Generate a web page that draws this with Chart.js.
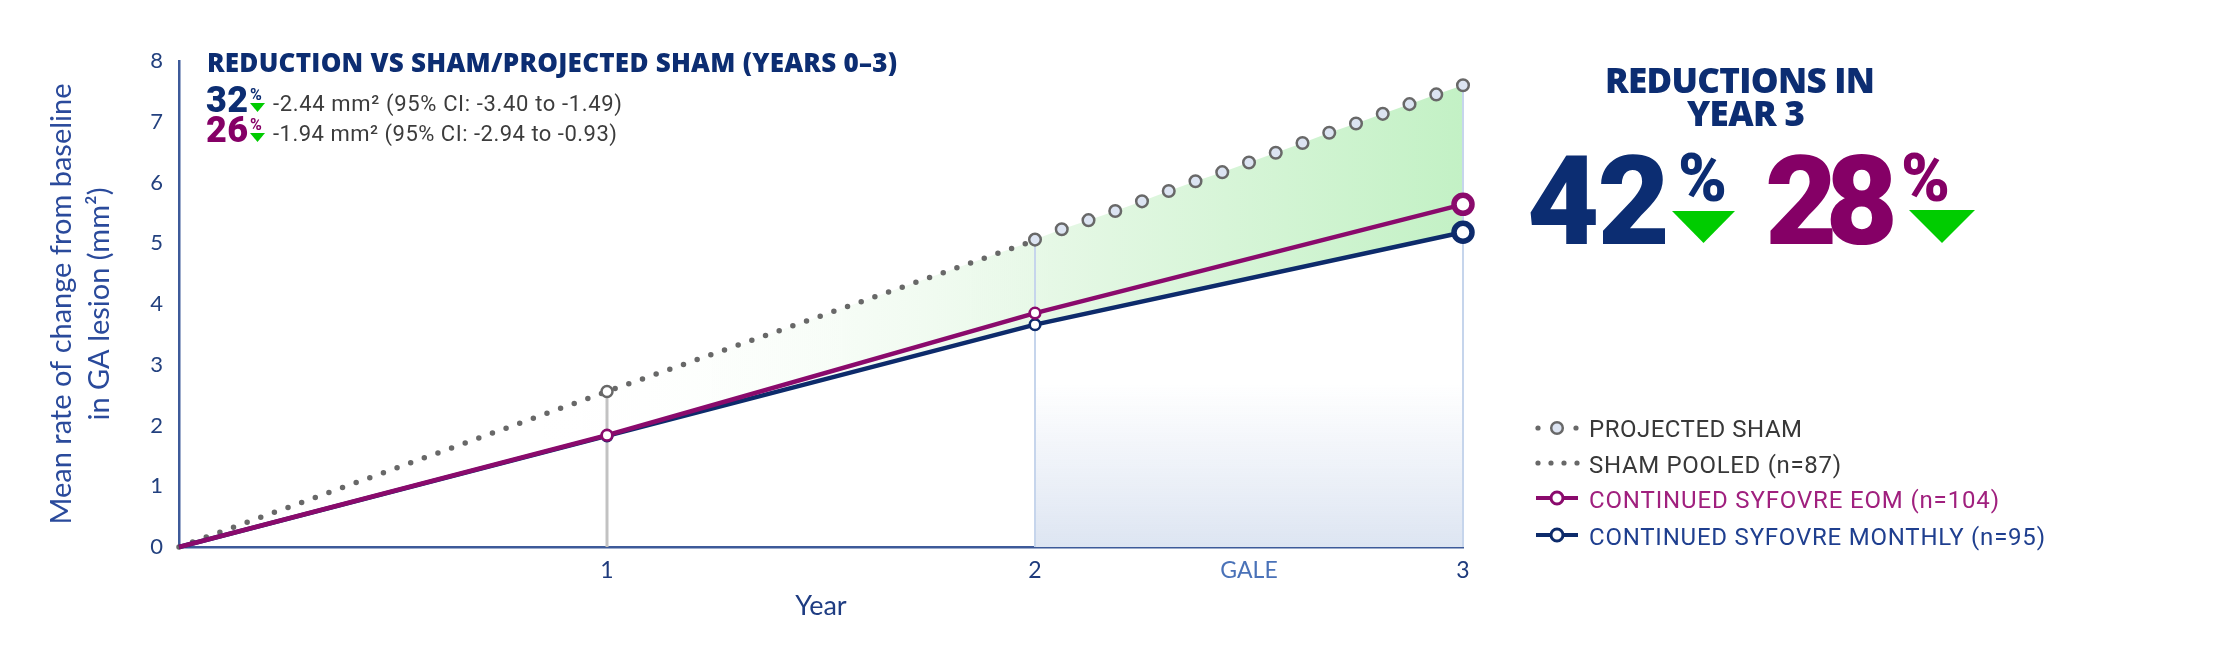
<!DOCTYPE html>
<html>
<head>
<meta charset="utf-8">
<script src="https://cdn.jsdelivr.net/npm/chart.js@4.4.1/dist/chart.umd.min.js"></script>
<style>
  html, body { margin: 0; padding: 0; background: #fff; }
  #wrap { position: relative; width: 2230px; height: 666px; overflow: hidden; }
  #wrap canvas, #wrap svg { position: absolute; left: 0; top: 0; }
  .t { position: absolute; white-space: nowrap; }
</style>
</head>
<body>
<div id="wrap">
  <canvas id="chart" width="2230" height="666"></canvas>
  <svg id="deco" width="2230" height="666"></svg>
</div>
<script>
// values
const years = [0, 1, 2, 3];
const shamPooled = [0, 2.56, 5.05];   // dotted, years 0-2
const projYears = [2, 2.0625, 2.125, 2.1875, 2.25, 2.3125, 2.375, 2.4375, 2.5,
                   2.5625, 2.625, 2.6875, 2.75, 2.8125, 2.875, 2.9375, 3];
const projSham = [5.06, 5.23, 5.38, 5.53, 5.69, 5.86, 6.02, 6.17, 6.33,
                  6.49, 6.65, 6.82, 6.97, 7.13, 7.29, 7.45, 7.60];
const eom = [0, 1.84, 3.85, 5.64];
const monthly = [0, 1.83, 3.66, 5.18];
const xTickValues = [1, 2, 2.5, 3];
const xTickLabels = ['1', '2', 'GALE', '3'];

const NAVY = '#0d2b6b';
const MAGENTA = '#8a0a6c';
const GREY = '#686868';

const pairs = (xs, ys) => xs.map((x, i) => ({ x: x, y: ys[i] }));

// green band, GALE shading and drop lines, drawn under the lines
const areaPlugin = {
  id: 'areas',
  beforeDatasetsDraw(chart) {
    const { ctx, scales: { x, y } } = chart;
    const monPts = chart.getDatasetMeta(1).data;
    const projPts = chart.getDatasetMeta(2).data;
    const shamPts = chart.getDatasetMeta(3).data;
    ctx.save();

    const g = ctx.createLinearGradient(x.getPixelForValue(0.85), 0, x.getPixelForValue(3), 0);
    g.addColorStop(0, 'rgba(255,255,255,0)');
    g.addColorStop(0.55, 'rgb(230,248,230)');
    g.addColorStop(1, 'rgb(195,241,197)');
    ctx.beginPath();
    shamPts.forEach((p, i) => i ? ctx.lineTo(p.x, p.y) : ctx.moveTo(p.x, p.y));
    projPts.forEach(p => ctx.lineTo(p.x, p.y));
    for (let i = monPts.length - 1; i >= 0; i--) ctx.lineTo(monPts[i].x, monPts[i].y);
    ctx.closePath();
    ctx.fillStyle = g;
    ctx.fill();

    const x2 = x.getPixelForValue(2), x3 = x.getPixelForValue(3);
    const top = y.getPixelForValue(2.7), bot = y.getPixelForValue(0);
    const gv = ctx.createLinearGradient(0, top, 0, bot);
    gv.addColorStop(0, 'rgba(223,230,242,0)');
    gv.addColorStop(1, 'rgb(221,229,242)');
    ctx.fillStyle = gv;
    ctx.fillRect(x2, top, x3 - x2, bot - top);

    const drop = (p, color, w) => {
      ctx.beginPath();
      ctx.moveTo(p.x, p.y);
      ctx.lineTo(p.x, bot);
      ctx.strokeStyle = color;
      ctx.lineWidth = w;
      ctx.stroke();
    };
    drop(shamPts[1], '#c2c2c2', 3);
    drop(projPts[0], '#c6d5ec', 2);
    drop(projPts[projPts.length - 1], '#c6d5ec', 2);
    ctx.restore();
  }
};

new Chart(document.getElementById('chart'), {
  type: 'line',
  data: {
    datasets: [
      {
        label: 'CONTINUED SYFOVRE EOM (n=104)',
        data: pairs(years, eom),
        borderColor: MAGENTA, borderWidth: 4.5,
        pointRadius: [0, 5.3, 5.3, 9], pointBorderWidth: [0, 2.6, 2.6, 5.5],
        pointBackgroundColor: '#fff', pointBorderColor: MAGENTA
      },
      {
        label: 'CONTINUED SYFOVRE MONTHLY (n=95)',
        data: pairs(years, monthly),
        borderColor: NAVY, borderWidth: 4.5,
        pointRadius: [0, 5.3, 5.3, 9], pointBorderWidth: [0, 2.6, 2.6, 5.5],
        pointBackgroundColor: '#fff', pointBorderColor: NAVY
      },
      {
        label: 'PROJECTED SHAM',
        data: pairs(projYears, projSham),
        showLine: false,
        pointRadius: 5.8, pointBorderWidth: 2.5,
        pointBackgroundColor: '#dce4f2', pointBorderColor: GREY
      },
      {
        label: 'SHAM POOLED (n=87)',
        data: pairs(years.slice(0, 3), shamPooled),
        borderColor: GREY, borderWidth: 5.5,
        borderDash: [0, 14.5], borderCapStyle: 'round',
        pointRadius: [0, 5.5, 0], pointBorderWidth: 2.5,
        pointBackgroundColor: '#fff', pointBorderColor: GREY
      }
    ]
  },
  options: {
    responsive: false,
    animation: false,
    datasets: { line: { clip: false, tension: 0 } },
    layout: { padding: { left: 0, right: 767, top: 61, bottom: 39 } },
    plugins: { legend: { display: false }, tooltip: { enabled: false } },
    scales: {
      x: {
        type: 'linear', min: 0, max: 3,
        afterBuildTicks: scale => { scale.ticks = xTickValues.map(v => ({ value: v })); },
        afterFit: scale => { scale.height = 80; },
        grid: { display: false, drawTicks: false },
        border: { color: '#3d5a99', width: 2.5 },
        ticks: {
          padding: 10,
          font: { family: 'Lato', size: 23 },
          color: ctx => ctx.tick && ctx.tick.value === 2.5 ? '#4a72b8' : '#1d3a7c',
          callback: v => xTickLabels[xTickValues.indexOf(v)] || ''
        },
        title: {
          display: true, text: 'Year', color: '#1e3c82',
          font: { family: 'Lato', size: 27 }, padding: { top: 0, bottom: 5 }
        }
      },
      y: {
        min: 0, max: 8,
        afterFit: scale => { scale.width = 179; },
        grid: { display: false, drawTicks: false },
        border: { color: '#3d5a99', width: 2.5 },
        ticks: { stepSize: 1, padding: 16, color: '#23417f', font: { family: 'Lato', size: 22 } },
        title: {
          display: true,
          text: ['Mean rate of change from baseline', 'in GA lesion (mm\u00B2)'],
          color: '#2a4a9b',
          font: { family: 'Lato', size: 29, lineHeight: 1.31 },
          padding: { top: 43 }
        }
      }
    }
  },
  plugins: [areaPlugin]
});

// ---- text annotations and legend ----
const wrap = document.getElementById('wrap');
const BASELINE = { 'Open Sans': 0.888, 'Roboto': 0.8415, 'Lato': 0.887 };

function addText(text, o) {
  const el = document.createElement('div');
  el.className = 't';
  el.textContent = text;
  el.style.font = (o.weight || 400) + ' ' + o.size + 'px "' + o.family + '"';
  el.style.lineHeight = '1';
  el.style.color = o.color;
  wrap.appendChild(el);
  const n = [...text].length;
  let w = el.getBoundingClientRect().width;
  if (o.width && n > 1) {
    const ls = (o.width - w) / (n - 1);
    el.style.letterSpacing = ls + 'px';
    w = w + ls * (n - 1);
  }
  el.style.left = (o.align === 'center' ? o.x - w / 2 : o.x) + 'px';
  el.style.top = (o.base - BASELINE[o.family] * o.size) + 'px';
}

const TXT = '#3c3c3c';
const BIG_NAVY = '#0c2d72';
const BIG_MAG = '#850066';
const GREEN = '#00cc00';

addText('REDUCTION VS SHAM/PROJECTED SHAM (YEARS 0\u20133)',
  { x: 207, base: 72, size: 26, family: 'Open Sans', weight: 800, color: BIG_NAVY, width: 690 });
addText('32', { x: 206, base: 112, size: 36, family: 'Roboto', weight: 900, color: BIG_NAVY, width: 42 });
addText('%', { x: 250, base: 100, size: 16, family: 'Roboto', weight: 700, color: BIG_NAVY });
addText('-2.44 mm\u00B2 (95% CI: -3.40 to -1.49)',
  { x: 273, base: 112, size: 22, family: 'Roboto', color: TXT, width: 349 });
addText('26', { x: 206, base: 142, size: 36, family: 'Roboto', weight: 900, color: BIG_MAG, width: 42 });
addText('%', { x: 250, base: 130, size: 16, family: 'Roboto', weight: 700, color: BIG_MAG });
addText('-1.94 mm\u00B2 (95% CI: -2.94 to -0.93)',
  { x: 273, base: 142, size: 22, family: 'Roboto', color: TXT, width: 344 });

addText('REDUCTIONS IN', { x: 1740, base: 93, size: 35, family: 'Open Sans', weight: 800, color: BIG_NAVY, width: 270, align: 'center' });
addText('YEAR 3', { x: 1746, base: 126, size: 35, family: 'Open Sans', weight: 800, color: BIG_NAVY, width: 118, align: 'center' });
addText('42', { x: 1527, base: 244, size: 125, family: 'Roboto', weight: 900, color: BIG_NAVY, width: 143 });
addText('%', { x: 1678, base: 202, size: 66, family: 'Roboto', weight: 900, color: BIG_NAVY });
addText('28', { x: 1765, base: 244, size: 125, family: 'Roboto', weight: 900, color: BIG_MAG, width: 133 });
addText('%', { x: 1901, base: 202, size: 66, family: 'Roboto', weight: 900, color: BIG_MAG });

const legendRows = [
  { text: 'PROJECTED SHAM', color: '#383838', base: 437, width: 213 },
  { text: 'SHAM POOLED (n=87)', color: '#383838', base: 473, width: 252 },
  { text: 'CONTINUED SYFOVRE EOM (n=104)', color: '#a0207e', base: 508, width: 410 },
  { text: 'CONTINUED SYFOVRE MONTHLY (n=95)', color: '#1f3f8f', base: 545, width: 456 }
];
legendRows.forEach(r => addText(r.text, { x: 1589, base: r.base, size: 24, family: 'Roboto', color: r.color, width: r.width }));

// triangles and legend symbols
const svg = document.getElementById('deco');
const NS = 'http://www.w3.org/2000/svg';
function shape(tag, attrs) {
  const el = document.createElementNS(NS, tag);
  Object.keys(attrs).forEach(k => el.setAttribute(k, attrs[k]));
  svg.appendChild(el);
}
const tri = (x1, x2, y1, y2) => shape('polygon', {
  points: x1 + ',' + y1 + ' ' + x2 + ',' + y1 + ' ' + ((x1 + x2) / 2) + ',' + y2, fill: GREEN });
tri(250, 265, 103, 112);
tri(250, 265, 133, 142);
tri(1672, 1735, 211, 243);
tri(1909, 1975, 210, 243);

shape('circle', { cx: 1538, cy: 428, r: 2.6, fill: GREY });
shape('circle', { cx: 1576, cy: 428, r: 2.6, fill: GREY });
shape('circle', { cx: 1557, cy: 428, r: 5.8, fill: '#dce4f2', stroke: GREY, 'stroke-width': 2.5 });
[1538, 1551, 1564, 1577].forEach(cx => shape('circle', { cx: cx, cy: 463, r: 2.6, fill: GREY }));
[[498, MAGENTA], [535, NAVY]].forEach(([cy, c]) => {
  shape('line', { x1: 1536, y1: cy, x2: 1578, y2: cy, stroke: c, 'stroke-width': 4 });
  shape('circle', { cx: 1557, cy: cy, r: 6, fill: '#fff', stroke: c, 'stroke-width': 3 });
});
</script>
</body>
</html>
